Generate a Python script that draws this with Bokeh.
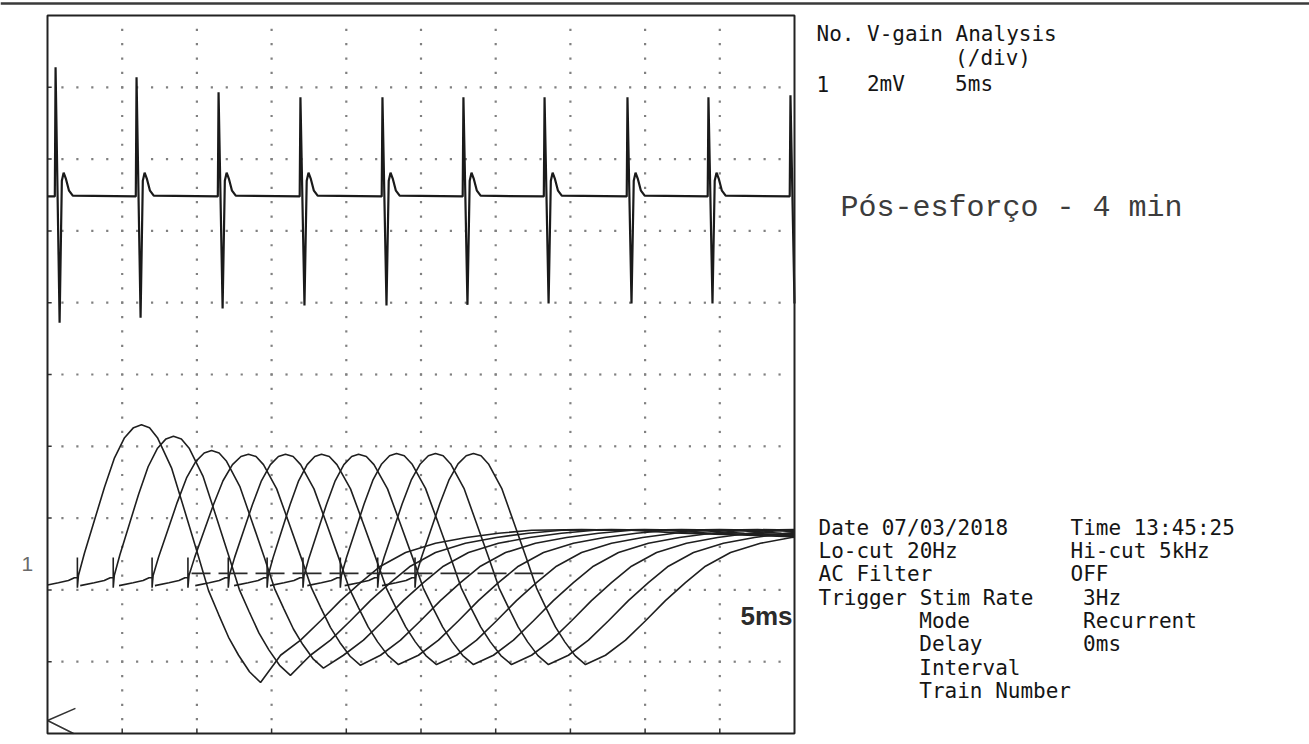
import numpy as np
from bokeh.plotting import figure
from bokeh.models import Label, Range1d
from bokeh.embed import file_html
from bokeh.resources import INLINE

# ---------------- data (x: ms, 5 ms/div ; y: divisions, 2 mV/div) ----------------
X_TICKS_MS = [0, 5, 10, 15, 20, 25, 30, 35, 40, 45, 50]
Y_TICKS_DIV = [0, 1, 2, 3, 4, 5, 6, 7, 8, 9, 10]

# upper trace: stimulus train
TOP_BASE = 7.48
TOP_SPIKE_MS = [0.54, 5.96, 11.45, 16.93, 22.42, 27.84, 33.27, 38.82, 44.24, 49.73]
TOP_SPIKE_HIGH = [9.28, 9.14, 8.93, 8.86, 8.86, 8.86, 8.86, 8.86, 8.86, 8.89]
TOP_SPIKE_LOW = [5.72, 5.79, 5.92, 5.96, 5.96, 5.97, 5.99, 5.99, 5.99, 5.99]
SPIKE_TAIL_T = [0.42, 0.54, 0.70, 0.90, 1.15]      # ms after each spike
SPIKE_TAIL_V = [7.70, 7.81, 7.72, 7.56, 7.49]

# lower traces: 10 superimposed responses (Recurrent mode)
BASE = 2.20
ART_MS = [2.0, 4.4, 7.0, 9.4, 12.1, 14.7, 17.1, 19.6, 22.1, 24.6]
PEAK_MS = [6.29, 8.43, 10.98, 13.45, 15.93, 18.34, 20.82, 23.36, 25.97, 28.51]
PEAK_V = [4.30, 4.14, 3.94, 3.89, 3.89, 3.89, 3.89, 3.90, 3.90, 3.90]
TROUGH_MS = [14.26, 16.26, 18.47, 20.95, 23.49, 26.04, 28.51, 31.06, 33.53, 36.01]
TROUGH_V = [0.71, 0.81, 0.91, 0.95, 0.96, 0.96, 0.96, 0.96, 0.96, 0.96]

# first response (ms relative to stimulus, div)
PRE_T = [-2.21, -1.27, -0.60, -0.20, 0.0, 0.0, 0.0, 0.07]
PRE_V = [2.06, 2.10, 2.13, 2.17, 2.17, 2.45, 2.03, 2.20]
WAVE_T = [0.47, 1.14, 1.81, 2.48, 3.15, 3.75, 4.28, 4.82, 5.35, 6.29, 7.16, 8.03,
          8.77, 9.44, 10.11, 10.78, 11.51, 12.25]
WAVE_V = [2.51, 2.97, 3.43, 3.84, 4.12, 4.26, 4.30, 4.26, 4.12, 3.70, 3.11, 2.51,
          1.99, 1.66, 1.34, 1.09, 0.86, 0.71]
# recovery after the trough (ms after trough, div)
TAIL_T = [1.34, 2.68, 4.02, 5.35, 6.69, 8.03, 9.71, 11.71, 13.79, 15.93, 18.14,
          21.49, 24.83, 28.18, 31.53, 35.54, 37.0]
TAIL_V = [1.09, 1.30, 1.57, 1.85, 2.10, 2.33, 2.52, 2.65, 2.73, 2.79, 2.83,
          2.84, 2.83, 2.79, 2.77, 2.74, 2.74]

DASH_X = [9.64, 33.2]
DASH_Y = [2.23, 2.23]
MARKER_X = [1.87, 0.0, 1.74]
MARKER_Y = [0.35, 0.18, 0.0]

HEADER = ["No. V-gain Analysis", "(/div)", "1", "2mV", "5ms"]
NOTE = "Pós-esforço - 4 min"
INFO_TEXT = ["Date 07/03/2018", "Time 13:45:25", "Lo-cut 20Hz", "Hi-cut 5kHz",
             "AC Filter", "OFF", "Trigger Stim Rate", "3Hz", "Mode", "Recurrent",
             "Delay", "0ms", "Interval", "Train Number"]
INFO_ROW = [0, 0, 1, 1, 2, 2, 3, 3, 4, 4, 5, 5, 6, 7]
INFO_COL = [0, 20, 0, 20, 0, 20, 0, 21, 8, 21, 8, 21, 8, 8]
SCALE_LABEL = "5ms"
CHANNEL_LABEL = "1"

# ---------------- page geometry ----------------
W, H = 1309, 744
FRAME_L, FRAME_T = 47, 15          # screen position of the scope area
PX_PER_MS = 747 / 50.0
PX_PER_DIV = 71.8
X0, X1 = X_TICKS_MS[0], X_TICKS_MS[-1]
Y0, Y1 = Y_TICKS_DIV[0], Y_TICKS_DIV[-1]

p = figure(width=W, height=H, title=None,
           x_range=Range1d(X0 - FRAME_L / PX_PER_MS, X0 + (W - FRAME_L) / PX_PER_MS),
           y_range=Range1d(Y1 - (H - FRAME_T) / PX_PER_DIV, Y1 + FRAME_T / PX_PER_DIV),
           x_axis_type=None, y_axis_type=None,
           output_backend="svg", toolbar_location=None,
           min_border=0)
p.outline_line_color = None
p.background_fill_color = "white"
p.border_fill_color = "white"


def ms(px):
    return X0 + (px - FRAME_L) / PX_PER_MS


def dv(py):
    return Y1 - (py - FRAME_T) / PX_PER_DIV


def clip(xs, ys, lo, hi):
    ox, oy = [], []
    for k in range(len(xs)):
        x, y = xs[k], ys[k]
        if k > 0:
            xp, yp = xs[k - 1], ys[k - 1]
            if xp < lo <= x and x != xp:
                ox.append(lo); oy.append(yp + (y - yp) * (lo - xp) / (x - xp))
            if xp <= hi < x and x != xp:
                ox.append(hi); oy.append(yp + (y - yp) * (hi - xp) / (x - xp))
        if lo <= x <= hi:
            ox.append(x); oy.append(y)
    return ox, oy


# paper edge line at the very top of the scan
p.line([ms(0), ms(W)], [dv(3), dv(3)], line_color="#3a3a3a", line_width=2.5)

# dotted grid: one dot every 1/5 division along each division line
dx, dy = [], []
fine_x = np.arange(X0, X1 + 0.001, 1.0)
fine_y = np.arange(Y0, Y1 + 0.001, 0.2)
for yv in Y_TICKS_DIV[1:-1]:
    for xv in fine_x[1:-1]:
        dx.append(xv); dy.append(yv)
for xv in X_TICKS_MS[1:-1]:
    for yv in fine_y[1:-1]:
        dx.append(xv); dy.append(yv)
p.scatter(dx, dy, marker="square", size=2.2, color="#808080", line_color=None)

# small inner ticks on left and bottom frame
p.segment(x0=[X0] * 9, y0=Y_TICKS_DIV[1:-1], x1=[X0 + 0.28] * 9, y1=Y_TICKS_DIV[1:-1],
          line_color="#333333", line_width=1.5)
p.segment(x0=X_TICKS_MS[1:-1], y0=[Y0] * 9, x1=X_TICKS_MS[1:-1], y1=[Y0 + 0.07] * 9,
          line_color="#333333", line_width=1.5)

# upper trace
tx, ty = [X0], [TOP_BASE]
for t, hi, lo in zip(TOP_SPIKE_MS, TOP_SPIKE_HIGH, TOP_SPIKE_LOW):
    tx += [t - 0.05, t, t + 0.27]
    ty += [TOP_BASE, hi, lo]
    tx += [t + s for s in SPIKE_TAIL_T]
    ty += SPIKE_TAIL_V
tx, ty = clip(tx, ty, X0, X1)
p.line(tx, ty, line_color="#1a1a1a", line_width=2.2)

# lower traces
tpl_pk_i = WAVE_V.index(max(WAVE_V))
tpl_pk_t, tpl_pk_v = WAVE_T[tpl_pk_i], WAVE_V[tpl_pk_i]
tpl_tr_t, tpl_tr_v = WAVE_T[-1], WAVE_V[-1]
xs, ys = [], []
for i in range(len(ART_MS)):
    a = ART_MS[i]
    sx = [a + t for t in PRE_T]
    sy = list(PRE_V)
    pk = PEAK_MS[i] - a
    tr = TROUGH_MS[i] - a
    for t, v in zip(WAVE_T, WAVE_V):
        if t <= tpl_pk_t:
            tt = t * pk / tpl_pk_t
        else:
            tt = pk + (t - tpl_pk_t) * (tr - pk) / (tpl_tr_t - tpl_pk_t)
        if v >= BASE:
            vv = BASE + (v - BASE) * (PEAK_V[i] - BASE) / (tpl_pk_v - BASE)
        else:
            vv = BASE + (v - BASE) * (TROUGH_V[i] - BASE) / (tpl_tr_v - BASE)
        sx.append(a + tt); sy.append(vv)
    for t, v in zip(TAIL_T, TAIL_V):
        sx.append(TROUGH_MS[i] + t); sy.append(v)
    sx, sy = clip(sx, sy, X0, X1)
    xs.append(sx); ys.append(sy)
p.multi_line(xs, ys, line_color="#1f1f1f", line_width=1.6)

p.line(DASH_X, DASH_Y, line_color="#2a2a2a", line_width=1.6,
       line_dash="29 8", line_dash_offset=10)
p.line(MARKER_X, MARKER_Y, line_color="#333333", line_width=1.6)

# scope frame
p.quad(left=[X0], right=[X1], bottom=[Y0], top=[Y1], fill_color=None,
       line_color="#222222", line_width=2)

# ---------------- texts ----------------
MONO = "DejaVu Sans Mono"
CW = 12.6


def lab(text, px, py, font=MONO, size="21px", color="#151515", align="left",
        style="normal"):
    p.add_layout(Label(x=ms(px), y=dv(py), text=text, text_font=font,
                       text_font_size=size, text_color=color, text_align=align,
                       text_baseline="alphabetic", text_font_style=style))


lab(HEADER[0], 816, 33)
lab(HEADER[1], 816 + 11 * CW, 57)
lab(HEADER[2], 816, 83)
lab(HEADER[3], 816 + 4 * CW, 83)
lab(HEADER[4], 816 + 11 * CW, 83)

lab(NOTE, 840, 207, font="Liberation Mono", size="30px", color="#3c3c3c")

row_base = [527, 550, 573, 597, 620, 643, 667, 690]
for txt, r, c in zip(INFO_TEXT, INFO_ROW, INFO_COL):
    lab(txt, 818 + c * CW, row_base[r])

lab(SCALE_LABEL, 792, 615, font="Liberation Sans", size="26px", color="#2b2b2b",
    align="right", style="bold")
lab(CHANNEL_LABEL, 21, 563, font="Liberation Sans", size="21px", color="#6a6a6a")

open("out.html", "w").write(file_html(p, INLINE))
